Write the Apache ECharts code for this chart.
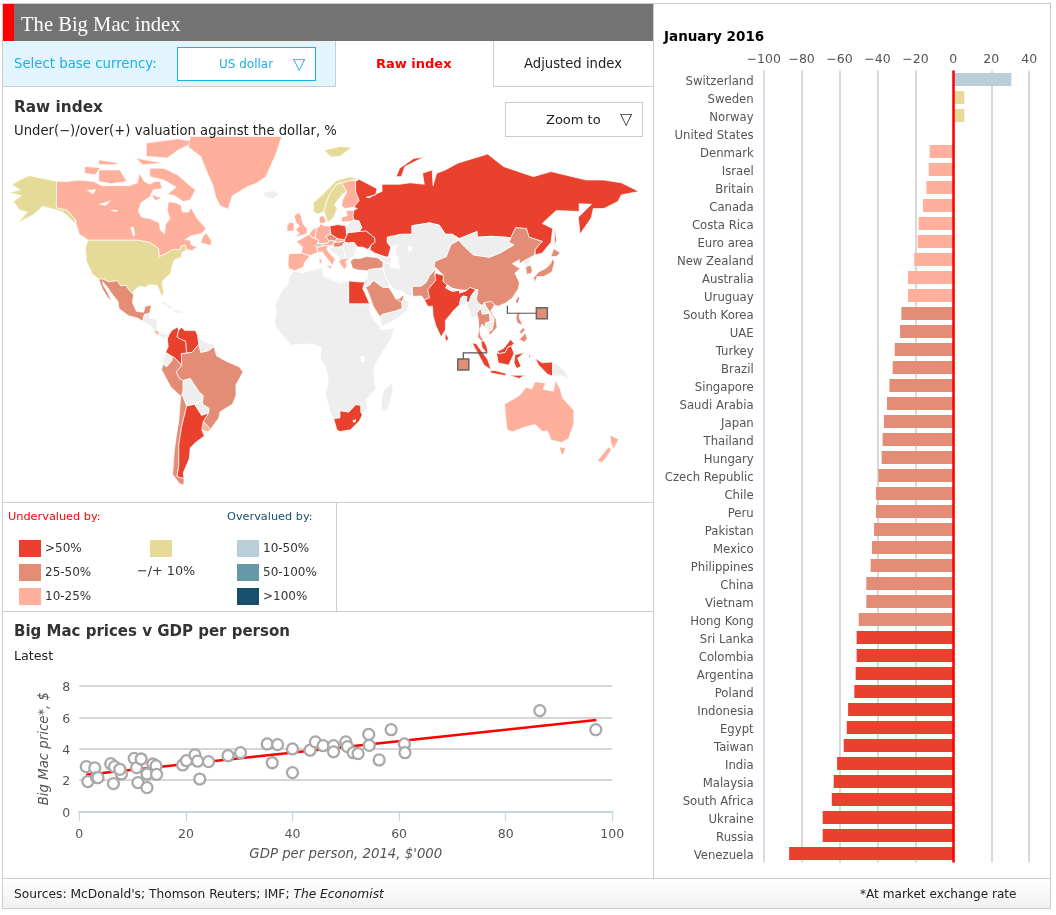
<!DOCTYPE html>
<html>
<head>
<meta charset="utf-8">
<title>The Big Mac index</title>
<script src="https://cdn.jsdelivr.net/npm/echarts@6/dist/echarts.min.js"></script>
<style>
html, body { margin: 0; padding: 0; background: #fff; }
body { width: 1056px; height: 915px; position: relative; overflow: hidden; font-family: "DejaVu Sans", sans-serif; font-size: 12px; color: #333; }
#chart { position: absolute; left: 0; top: 0; width: 1056px; height: 915px; }
.box, .txt { position: absolute; box-sizing: border-box; }
.txt { white-space: nowrap; line-height: 16px; }
.head { font-size: 15px; font-weight: bold; color: #333; }
.swatch { position: absolute; width: 22px; height: 17px; }
</style>
</head>
<body>
<div id="chart"></div>

<!-- 外框 -->
<div class="box" style="left:2px;top:3px;width:1049px;height:906px;border:1px solid #ccc;"></div>
<div class="box" style="left:653px;top:3px;width:0;height:875px;border-left:1px solid #ccc;"></div>
<div class="box" style="left:3px;top:4px;width:650px;height:37px;background:#737373;"></div>
<div class="box" style="left:3px;top:4px;width:11px;height:37px;background:#f00;"></div>
<div class="txt" style="left:21px;top:14px;font:20.6px/20px 'Liberation Serif',serif;color:#fff;">The Big Mac index</div>

<!-- 货币选择和标签 -->
<div class="box" style="left:3px;top:41px;width:332px;height:46px;background:#e2f5fd;border-bottom:1px solid #ccc;"></div>
<div class="txt" style="left:14px;top:56px;font-size:13.3px;color:#1ab0e8;">Select base currency:</div>
<div class="box" style="left:177px;top:47px;width:139px;height:34px;background:#fff;border:1px solid #1ab0e8;"></div>
<div class="txt" style="left:219px;top:56px;color:#1ab0e8;">US dollar</div>
<div class="txt" style="left:293px;top:54px;font-size:16px;line-height:20px;color:#1ab0e8;">▽</div>
<div class="box" style="left:335px;top:41px;width:0;height:46px;border-left:1px solid #ccc;"></div>
<div class="txt" style="left:376px;top:56px;font-size:13px;font-weight:bold;color:#f00;">Raw index</div>
<div class="box" style="left:493px;top:41px;width:160px;height:46px;border-left:1px solid #ccc;border-bottom:1px solid #ccc;"></div>
<div class="txt" style="left:524px;top:56px;font-size:13.2px;color:#222;">Adjusted index</div>

<div class="txt head" style="left:14px;top:99px;font-size:15.3px;">Raw index</div>
<div class="txt" style="left:14px;top:123px;font-size:13.2px;color:#222;">Under(−)/over(+) valuation against the dollar, %</div>
<div class="box" style="left:505px;top:102px;width:138px;height:35px;border:1px solid #ccc;background:#fff;"></div>
<div class="txt" style="left:546px;top:112px;font-size:13px;color:#222;">Zoom to</div>
<div class="txt" style="left:620px;top:109px;font-size:16px;line-height:20px;color:#333;">▽</div>

<!-- 图例 -->
<div class="box" style="left:3px;top:502px;width:650px;height:110px;border-top:1px solid #ccc;border-bottom:1px solid #ccc;"></div>
<div class="box" style="left:336px;top:502px;width:0;height:110px;border-left:1px solid #ccc;"></div>
<div class="txt" style="left:8px;top:509px;font-size:11.3px;color:#f00;">Undervalued by:</div>
<div class="txt" style="left:227px;top:509px;font-size:11.3px;color:#17506c;">Overvalued by:</div>
<div class="swatch" style="left:19px;top:540px;background:#e9412e;"></div>
<div class="txt" style="left:45px;top:540px;">&gt;50%</div>
<div class="swatch" style="left:19px;top:564px;background:#e38c76;"></div>
<div class="txt" style="left:45px;top:564px;">25-50%</div>
<div class="swatch" style="left:19px;top:588px;background:#ffb09c;"></div>
<div class="txt" style="left:45px;top:588px;">10-25%</div>
<div class="swatch" style="left:150px;top:540px;background:#e6da98;"></div>
<div class="txt" style="left:137px;top:563px;font-size:12.8px;">−/+ 10%</div>
<div class="swatch" style="left:237px;top:540px;background:#b9ced8;"></div>
<div class="txt" style="left:263px;top:540px;">10-50%</div>
<div class="swatch" style="left:237px;top:564px;background:#6599a8;"></div>
<div class="txt" style="left:263px;top:564px;">50-100%</div>
<div class="swatch" style="left:237px;top:588px;background:#17506c;"></div>
<div class="txt" style="left:263px;top:588px;">&gt;100%</div>

<div class="txt head" style="left:14px;top:623px;">Big Mac prices v GDP per person</div>
<div class="txt" style="left:14px;top:648px;font-size:12.7px;color:#222;">Latest</div>

<div class="txt" style="left:664px;top:28px;font-size:13.5px;font-weight:bold;color:#000;">January 2016</div>

<!-- 页脚 -->
<div class="box" style="left:3px;top:878px;width:1047px;height:30px;border-top:1px solid #ccc;background:linear-gradient(#fff,#f1f1f1);"></div>
<div class="txt" style="left:14px;top:886px;font-size:12.25px;color:#222;">Sources: McDonald's; Thomson Reuters; IMF; <i>The Economist</i></div>
<div class="txt" style="left:860px;top:886px;font-size:12.1px;color:#222;">*At market exchange rate</div>

<script>
// 条形图数据，2016年1月
var barCategories = ["Switzerland","Sweden","Norway","United States","Denmark","Israel","Britain","Canada","Costa Rica","Euro area",
    "New Zealand","Australia","Uruguay","South Korea","UAE","Turkey","Brazil","Singapore","Saudi Arabia","Japan",
    "Thailand","Hungary","Czech Republic","Chile","Peru","Pakistan","Mexico","Philippines","China","Vietnam",
    "Hong Kong","Sri Lanka","Colombia","Argentina","Poland","Indonesia","Egypt","Taiwan","India","Malaysia",
    "South Africa","Ukraine","Russia","Venezuela"];
var barValues = [30.6,5.8,5.8,0,-12.5,-13,-14.2,-16,-18.3,-18.8,
    -20.6,-23.9,-23.9,-27.4,-28.1,-30.9,-32,-33.7,-35,-36.6,
    -37.3,-37.8,-39.5,-40.8,-40.8,-41.8,-42.9,-43.6,-45.9,-45.9,
    -49.9,-51,-51,-51.5,-52.2,-55.5,-56.2,-57.8,-61.3,-63.1,
    -64.1,-68.9,-68.9,-86.6];

// 散点图数据：人均GDP（千美元）和巨无霸价格（美元）
var gdpValues = [1.3,2.9,1.6,3.25,3.5,5.9,6.6,6.4,7.9,7.6,10.3,10.75,11.6,11,12.7,12.7,13.8,14.4,14.5,19.4,20.1,21.7,22.2,22.6,24.25,27.9,30.25,35.25,37.2,36.2,40,40,43.3,44.3,45.75,47.7,47.7,50,50.3,51.4,52.3,54.3,54.4,56.25,58.5,61,61.1,86.4,96.9];
var priceValues = [2.85,2.77,1.9,2.15,2.15,3.04,2.85,1.77,2.38,2.68,3.38,2.79,3.34,1.83,1.51,2.38,3.02,2.9,2.36,2.96,3.23,3.6,3.2,2.06,3.17,3.55,3.74,4.3,4.26,3.1,3.98,2.47,3.9,4.43,4.19,4.19,3.8,4.43,4.13,3.74,3.68,4.91,4.21,3.28,5.21,4.3,3.74,6.43,5.21];
var trendGdp = [1.3,97];
var trendPrice = [2.34,5.83];

// 估值区间的颜色
var bandLimits = [-50,-25,-10,10,50,100];
var bandColors = ["#e9412e","#e38c76","#ffb09c","#e6da98","#b9ced8","#6599a8","#17506c"];

// 简化的世界地图轮廓（经度,纬度），名字对应条形图的类别，Other 为灰色，Blank 为留白
var mapShapes = [
    ["United States","-141,69.6 -148,70.4 -156.5,71.3 -162,70 -166.5,68.3 -161.5,66.5 -168,65.6 -161,64.5 -165.5,62.5 -162,59.5 -157.5,58.8 -163,55 -155,57.5 -151,59.5 -149,60.8 -144,60 -138,59 -134,57 -131,55 -130,56 -135,59.5 -141,60.3"],
    ["United States","-123,49 -95,49 -88,48 -83,45.5 -82.5,42 -79,43.3 -75,45 -71,45 -70,46.5 -67.8,47 -67,45 -70,43.5 -70,41.7 -74,40.6 -75.5,37.5 -76,35 -81,31.5 -80,26.5 -81,25 -82.7,28 -84,30 -89,30 -90,29 -94,29.5 -97.5,27 -97.2,25.9 -99.5,27.5 -101.5,29.8 -104.5,29.6 -106.5,31.8 -111,31.3 -114.8,32.5 -117,32.5 -120.5,34.5 -124,40 -124.5,46"],
    ["Canada","-123,49 -128,51 -130,55 -130,56 -135,59.5 -141,60.3 -141,69.6 -135,69.5 -128,70 -120,69.5 -115,68 -108,68 -100,68 -95,69 -94,72 -91,69.5 -88,68.5 -85,69.5 -82,69.5 -81,67 -86,66.5 -88,64 -93,62 -94.5,59 -92.5,57 -88,56.5 -82.5,55 -82,52.5 -79.5,51.2 -79,54.5 -76.5,56.5 -78,59 -77.5,62.4 -73,62 -70,61 -69.5,58.8 -66,58.8 -64.5,60.3 -61,56.5 -56,53 -58.5,51.3 -65,50.3 -68,49 -65,49 -64.5,47 -61,46 -64,44.5 -67,45 -67.8,47 -70,46.5 -71,45 -75,45 -79,43.3 -82.5,42 -83,45.5 -88,48 -95,49"],
    ["Canada","-80,73.5 -72,71.5 -67,69 -62,66.5 -65,63 -69,62.5 -74,64.5 -78,65 -73,67.5 -80,70 -88,71 -88,73.5"],
    ["Canada","-117,73 -105,73 -101,69.5 -110,68.7 -117,69.5"],
    ["Canada","-125,74 -116,73.7 -119,71.5 -125,72"],
    ["Canada","-90,77 -78,76.5 -72,79 -62,82 -72,83 -90,81.5"],
    ["Canada","-96,76.5 -80,75 -92,74.5"],
    ["Canada","-117,76 -105,75 -108,74.5 -117,74.5"],
    ["Canada","-59,47.7 -53,46.7 -53,49 -56,51.5 -58,50"],
    ["Canada","-87,65 -81,63.6 -85,62.8"],
    ["Canada","-128,50.7 -123.5,48.4 -125,49"],
    ["Denmark","-65,83.8 -13,83.8 -16,78 -22,71 -27,69 -33,67.5 -41,64.5 -43.5,59.8 -48,61 -50.5,64 -52,68 -56,73 -59,77 -66,80"],
    ["Denmark","8.2,57 10.5,57.7 12.5,55.5 10,54.8 8.5,55"],
    ["Mexico","-117,32.5 -114.8,32.5 -111,31.3 -106.5,31.8 -104.5,29.6 -101.5,29.8 -99.5,27.5 -97.2,25.9 -97.8,22.5 -95.5,18.8 -91.5,18.5 -90.5,21 -87,21.5 -88,18 -89,17.8 -91,17.5 -92,14.7 -95,16 -100,17 -105.5,20 -106,23 -109,25.8 -112.5,29.5 -114.8,31.5 -114.5,30 -112,27 -109.7,23 -112,24.8 -115,28.5"],
    ["Costa Rica","-85.7,11 -83.7,10.9 -82.6,9.5 -83,8.3 -85,9.8"],
    ["Colombia","-77.3,8.6 -75.5,10.7 -72,12.3 -71.5,11 -72.5,8 -70,7 -67.5,6.2 -67,1.2 -70,1 -69.8,-4.2 -73.5,-1 -75.3,-0.2 -79,1.5 -77.5,4 -78,7.3"],
    ["Venezuela","-72,12.3 -71.5,11 -72.5,8 -70,7 -67.5,6.2 -67,1.2 -64,1.5 -60,5 -60.7,8.5 -62,10.7 -68,10.7 -70,12 -71.5,10.9"],
    ["Peru","-80.3,-3.4 -78.5,-4.8 -75.5,-2 -75.3,-0.2 -73.5,-1 -69.8,-4.2 -73,-7 -71,-10 -69,-11 -69,-15.5 -69.5,-17.5 -70.4,-18.3 -76,-14 -81.3,-6"],
    ["Brazil","-69.8,-4.2 -70,1 -67,1.2 -64,1.5 -60,5 -59,1.5 -54.5,2.3 -51.5,4 -50,0 -44,-2.5 -37,-4.8 -35,-7 -39,-13 -39,-18 -41,-22 -48,-25.5 -48.8,-28.5 -53.4,-33.7 -57.6,-30.2 -54.6,-26 -54.3,-24 -58,-22 -57.7,-18 -60,-16.3 -65,-10 -69,-11 -71,-10 -73,-7"],
    ["Uruguay","-57.6,-30.2 -53.4,-33.7 -54.9,-35 -58.4,-34"],
    ["Chile","-70.4,-18.3 -69.5,-17.5 -67,-22.8 -70,-33 -71.5,-40 -71.5,-48 -72.5,-51.8 -68.5,-52.5 -68.6,-55 -71,-54.5 -75,-51 -74,-42 -73,-37 -71.5,-30"],
    ["Argentina","-67,-22.8 -62.5,-22 -58.5,-27.2 -54.6,-26 -57.6,-30.2 -58.4,-34 -57,-36.5 -62,-39 -65,-41 -65.5,-45 -69,-50.5 -68.5,-52.5 -72.5,-51.8 -71.5,-48 -71.5,-40 -70,-33"],
    ["Britain","-5.5,50 1.3,51.2 1.5,52.8 -1,54.8 -2,57.5 -3.5,58.6 -6,57.5 -4.8,55 -3,54 -5,52.5 -3,51.4"],
    ["Euro area","-10,52 -6,52.2 -6,55 -8.5,55.2 -10,54"],
    ["Euro area","-9,43.2 -1.8,43.4 3.2,42.4 0,39.5 -0.7,37.6 -5.5,36 -9,37 -9.5,39"],
    ["Euro area","-1.8,43.4 3.2,42.4 7.5,43.8 6.9,46 8,48.9 4.2,50 2.5,51 -1.5,49.5 -4.7,48.4 -1.2,46"],
    ["Euro area","2.5,51 4.2,50 6,49.5 6.2,51 7,53.4 4.7,52.8"],
    ["Euro area","6,49.5 8,48.9 7.6,47.6 9.6,47.5 13,47.6 13.8,48.7 12.2,50.3 15,51 14.3,53.9 11,54 9,54.8 8.6,53.8 7,53.4 6.2,51"],
    ["Euro area","9.6,47.5 10.4,46.7 13.8,46.5 16.3,46.9 17,48.3 15,49 13.8,48.7 13,47.6"],
    ["Euro area","7,45.9 7.5,43.8 10,44 12.5,41.5 16,38.2 16.5,39.5 17,40.5 18.5,40 13.5,44 12.5,45.5 13.8,46.5 10.4,46.6"],
    ["Euro area","12.5,38 15.5,38.2 15,36.7"],
    ["Euro area","8.2,41 9.7,41 9.5,39 8.5,39"],
    ["Euro area","17,48.6 18.8,49.5 22.8,49.1 22,48.4 18.5,47.9"],
    ["Euro area","19.5,40 20.5,41 22.9,41.3 26,41.4 23.5,40 24,37.8 22.5,36.5 21.2,37.8"],
    ["Euro area","21,55.3 26.5,55.5 28,56 27.5,57.5 28,59.4 23.5,59.2 24.3,57.5 21,57"],
    ["Euro area","21,61 23,60 28,60.5 31,62.8 29,66 29,69.5 27,70 21,69 24,65.8 21.5,63"],
    ["Switzerland","6,46.3 7,45.9 10.4,46.6 9.6,47.5 7.6,47.6"],
    ["Czech Republic","12.2,50.3 13.8,48.7 15,49 17,48.6 18.8,49.5 15,51"],
    ["Poland","14.3,53.9 15,51 18.8,49.5 22.8,49.1 24,50.7 23.5,53.9 19,54.4"],
    ["Hungary","16.3,46.9 17,48.1 18.5,47.9 22,48.4 22.8,48 21,46.2 18.8,45.9 16.5,46"],
    ["Ukraine","24,50.7 22.8,49.1 22.8,48 24.9,47.7 28,48 30,46 33,46 36,45 38,47 40,48 40,49.6 35,52.2 31,52 24,51.5"],
    ["Turkey","26,40 28,41.2 31.5,41.2 35,42 41.5,41.5 44.7,39.7 44.5,37.2 36.5,36.5 36,36 30.5,36.3 27.3,37"],
    ["Sweden","11,59 13,55.5 14.3,55.5 16.5,57 18.5,60 17,61.5 21.5,65 24,65.8 21,69 18,68.5 14.2,65 12.2,62"],
    ["Norway","5,59 7.5,58 11,59 12.2,62 14.2,65 18,68.5 21,69 27,70 31,70.2 26,71 18,69.8 12,66 5,62"],
    ["Norway","11,79 20,80.3 27,80 20,77 15,76.8"],
    ["Russia","52,71 55,71 57,74 67,76.6 69,76.9 62,76.4 54,73.5"],
    ["Russia","28,59.4 30,60 28,60.5 31,62.8 29,66 29,69.5 31,70.2 41,67 40.5,64.8 35,64 37,63.8 40,65 44,66 44,68.5 54,68.5 60,69 68,68.5 67,72 72.5,73 73,68 75,72 80,73 87,75 104,77.7 113,74 130,71 140,72.5 160,70 170,70 180,69 190,66 180,64.8 178,62.5 170,60 164,60 163,57 162,56 156.5,51 155.5,57 163,61.5 156,61.7 156,59 143,59.3 135,54.8 141,53 140,48 135,43.5 131,42.7 130.5,42.5 131,45 135,48.4 127.5,50 126,53 120,53.3 117,49.7 114,50 106,50.3 98,50 98,52 88,49.5 84,51 80,51 76.5,54.2 71,55 61,54 61,51 55,51 47,50 47,48 49,46 47.5,42 48.5,41.8 46,41.8 40,43.4 37,45 38,47 40,48 40,49.6 35,52.2 31,52 32.5,53.3 30.8,55.7 28,56 27.5,57.5"],
    ["Russia","142,54.3 143,49 142,46 142,50"],
    ["Egypt","25,31.7 25,22 37,22 34,27 33,28.5 34.2,31.3 32,31.2"],
    ["South Africa","16.5,-28.6 20,-28.4 20,-25 25,-25.7 29,-22.2 32,-22.5 32,-25.8 32.8,-27 31,-30 26,-34 20,-34.8 18.3,-34"],
    ["Israel","34.2,31.3 35,29.5 35.5,31.5 35.5,33 35,33"],
    ["Saudi Arabia","34.7,29 36.7,26 39,21 42.8,16.5 44,17.5 52,19 55.5,20 55.3,22.7 51.5,24.5 50,26.5 47.7,29 44.5,29 39,32 37,30"],
    ["UAE","51.5,24.2 55.3,22.7 56.2,24.5 56.3,26 54,24.2"],
    ["Pakistan","61.5,25.2 66.5,25.3 68,23.7 71,24.5 70,28 74.5,32 74,35 75,37 71,34 69,31 66,29.5 61,29.5"],
    ["India","68,23.7 70,21 72.7,21 73,17 74.5,13 77.5,8 80,11 80,15 85,19.5 88,21.7 88.8,24.5 90,25.3 92.3,25 91.7,23 93.3,22.5 94.7,25.5 97.3,28 94,29 92,27.7 89,26.8 88,26.5 88,27.8 84,27.3 80.2,28.7 81,30 78.7,31.5 79,34 74,35 74.5,32 70,28 71,24.5"],
    ["Sri Lanka","80,9.7 81.8,7.5 80.5,6 79.8,7.5"],
    ["China","74,40 80.5,42 83,47 87.5,49 91,46 96,42.7 105,41.7 111,43.5 119,47 116,47.8 117,49.7 120,53.3 126,53 127.5,50 135,48.4 131,45 130.5,42.5 128,41.5 124.3,40 122,39 122,40.7 118,39 121,37.5 122.5,37 119.5,35 122,31 121.5,28.5 118,24.5 114,22.3 110,21 108,21.5 106,23 102,22.5 101.5,21.2 99,22 97.5,24 98.5,28 97.3,28 94,29 92,27.7 89,27.8 84,28.5 81,30 78.7,31.5 79,34 75,37 73.5,37.5"],
    ["South Korea","125.5,37.7 128.4,38.4 129.4,36 128.5,34.8 126.3,34.5"],
    ["Japan","130,33 131,31 132,33.5 136,33.6 140.5,35.5 142,39.5 141,41.3 139.8,39 137,37 133,35.5"],
    ["Japan","140,42 141.5,45.4 145.3,43.5 143,42"],
    ["Taiwan","120,23 121.5,25.2 122,24.5 120.8,22"],
    ["Philippines","120,16 121,18.5 122.2,18.2 122,16 124,13 121,13.8"],
    ["Philippines","122,7 125.5,9.7 126.5,7.5 125,5.8"],
    ["Philippines","122,10 124,12 125.5,11 123,9.3"],
    ["Thailand","97.8,18 100,20.3 101,17.7 105,18 105.5,14.5 102.8,14 102.5,12 100.8,13.5 99.5,11 100,8.5 102,6.2 100.3,6.4 98.3,8 99,11 98.7,15"],
    ["Vietnam","102,22.5 106,23 108,21.5 105.7,19 108.8,15.5 109.3,12 105,8.6 104.7,10.4 106.5,11 107.5,14.5 107.5,16 104.7,19 103,21"],
    ["Malaysia","100.3,6.4 102,6.2 103.5,4 104.2,1.4 103,1.5 100.7,3.8"],
    ["Malaysia","109.6,2 113,3.2 115,5 117,7 119,5.3 117.5,4.2 115.5,3.8 114,1.5 110.5,1"],
    ["Indonesia","109,1.5 110.5,1 114,1.5 115.5,3.8 117.5,4.2 119,1 116,-4 110,-3"],
    ["Indonesia","95.2,5.5 97.5,5.2 104,-1.5 106,-6 102,-4 98.5,1"],
    ["Indonesia","105.3,-6.5 108,-6.3 114.5,-7.7 114.3,-8.7 106,-7.5"],
    ["Indonesia","119.5,0.5 125,1.5 121,-1 123,-4.5 120.5,-5.5 119,-3"],
    ["Indonesia","116,-8.5 125,-8.5 122,-10"],
    ["Indonesia","127.5,1.5 128.5,-1 127.5,-0.5"],
    ["Indonesia","131,-1 135,-3 141,-2.6 141,-9 138,-8 133,-4"],
    ["Australia","113.5,-22 114,-26 115,-34 118,-35 124,-33 131,-31.5 135,-34.8 138,-34.5 140,-38 146,-39 150,-37.5 153,-31 153,-25 146.5,-19 145.3,-15 142.5,-10.7 141.5,-16 135.5,-15 137,-12.2 131,-11.5 129,-15 126,-14 122,-18"],
    ["Australia","144.7,-40.7 148.3,-40.9 147,-43.5 146,-43.5"],
    ["New Zealand","173.5,-36 175.5,-36.8 178.5,-37.7 175.5,-41.5 174,-39"],
    ["New Zealand","172.7,-40.6 174.3,-41.7 171,-45 168.5,-46.6 166.5,-45.8"],
    ["Other","-92,14.7 -91,17.5 -89,17.8 -88,18 -88.5,15.9 -84,15.8 -83.7,10.9 -85.7,11 -87.5,13 -90,13.8"],
    ["Other","-83,8.3 -82.6,9.5 -79.5,9.5 -77.3,8.6 -78,7.3 -80.5,7.5"],
    ["Other","-85,22 -80,23 -74.2,20.2 -77.5,19.9 -78,21 -82,22.5"],
    ["Other","-74,19.8 -68.5,18.6 -71,17.9 -74.4,18.4"],
    ["Other","-60,5 -60.7,8.5 -57,6 -52,5 -51.5,4 -54.5,2.3 -59,1.5"],
    ["Other","-79,1.5 -75.3,-0.2 -75.5,-2 -78.5,-4.8 -80.3,-3.4 -81,-1.5"],
    ["Other","-69,-11 -65,-10 -60,-16.3 -57.7,-18 -58,-20 -62.5,-22 -67,-22.8 -69.5,-17.5 -69,-15.5"],
    ["Other","-58,-20 -58,-22 -54.3,-24 -54.6,-26 -58.5,-27.2 -62.5,-22"],
    ["Other","-24,65.5 -18,66.3 -14,65 -18,63.5 -22,64"],
    ["Other","13.6,45.5 16.5,46 18.8,45.9 21,46.2 22.5,44.5 22.9,41.3 20.5,41 19.5,40 19.3,42 15.5,44"],
    ["Other","21,46.2 22.8,48 24.9,47.7 28,48 30,46 29.5,45 28,41.9 26,41.4 22.9,41.3 22.5,44.5"],
    ["Other","24,51.5 31,52 32.5,53.3 30.8,55.7 28,56 26.5,55.5 23.5,53.9 24,50.7"],
    ["Other","40,43.4 46,41.8 48.5,41.8 49.5,40.3 48.5,39 44.7,39.7 41.5,41.5"],
    ["Other","53,47 51,44.8 53,42 53.8,37 49,37.5 48.5,39 44.7,39.7 44.5,37.2 46,33 48.5,30 51,28 56.5,27 57,25.7 61.5,25.2 61,29.5 66,29.5 69,31 71,34 75,37 73.5,37.5 74,40 80.5,42 83,47 87.5,49 84,51 80,51 76.5,54.2 71,55 61,54 61,51 55,51 47,50 47,48 49,46"],
    ["Other","80.2,28.7 84,27.3 88,27.8 88,26.5 89,26.8 92,27.7 89,27.8 84,28.5 81,30"],
    ["Other","88,21.7 88.8,24.5 90,25.3 92.3,25 91.7,23 92.3,20.8 90,22"],
    ["Other","87.5,49 91,46 96,42.7 105,41.7 111,43.5 119,47 116,47.8 117,49.7 114,50 106,50.3 98,50 98,52 88,49.5"],
    ["Other","124.3,40 128,41.5 130.5,42.5 127.5,39.5 128.4,38.4 125.5,37.7"],
    ["Other","92.3,20.8 91.7,23 93.3,22.5 94.7,25.5 97.3,28 98.5,28 97.5,24 99,22 101,21.2 100,20.3 97.8,18 98.7,15 99,11 98.2,14 97.3,16.7 94.5,16 94.3,18.7"],
    ["Other","101,21.2 101.5,21.2 102,22.5 103,21 104.7,19 107.5,16 107.5,14.5 105.5,14.5 105,18 101,17.7 100,20.3"],
    ["Other","102.8,14 105.5,14.5 107.5,14.5 106.5,11 104.7,10.4 102.5,12"],
    ["Other","141,-2.6 145,-4.5 147.7,-6.5 150.5,-10.5 146,-8.5 143,-9 141,-9"],
    ["Other","-6,35.8 -1,35.2 10,37.3 11,33.5 15,32.3 20,31 25,31.7 25,22 37,22 37.5,18 39.5,15 43,12.4 43.5,11 51,11.8 49,7 42,-1 39.5,-5 39.5,-10 40.5,-15 35,-20 35.5,-24 32.8,-26 32,-25.8 32,-22.5 29,-22.2 25,-25.7 20,-25 20,-28.4 16.5,-28.6 15,-27 11.8,-17.5 13.5,-11 12,-5 9,-1 9.5,3.5 5,5 -4,5 -8,4.5 -13,9 -16.5,12.5 -17,14.7 -16,19 -17,21 -13,27.7 -9.5,30 -9,33"],
    ["Other","36,36 36.5,36.5 44.5,37.2 46,33 48.5,30 47.7,29 44.5,29 39,32 37,30 35,29.5 35.5,31.5 35.5,33 35.8,34.5"],
    ["Other","42.8,16.5 43.5,12.8 45,12.8 52,15.6 55,17 57.8,19 59.7,22.5 56.5,24.5 55.3,22.7 55.5,20 52,19 44,17.5"],
    ["Other","49.5,-12 50.3,-16 47,-25 44,-25 43.5,-21 44.5,-16"],
    ["Blank","27.2,-29.5 29.3,-29 29,-30.5 27.7,-30.6"],
    ["Blank","-124,66.5 -118.5,66.8 -120,65"],
    ["Blank","-117,61.5 -110,62.8 -113,61"],
    ["Blank","-111,59.5 -106,59.5 -107,58.8"],
    ["Blank","-99,53.5 -97,53.5 -96.3,50.5 -97.5,50.5"],
    ["Blank","58.5,46.5 61,46.5 61,44.5 58.5,44"],
    ["Blank","31.8,0 34,0 34,-2.5 32,-2.5"]
];

// 地图投影：经度线性，纬度按分段刻度
var mapOriginX = 304.6, mapScaleX = 1.76;
var latKnots = [-60,-55,-35,-7,0,8,49,70,78,84];
var latPixels = [498,485,432,372,356,337,240,180,153,136];

function interp(v, from, to) {
    var i = 0;
    var rising = from[0] < from[1];
    while (i < from.length - 2 && (rising ? v > from[i + 1] : v < from[i + 1])) i++;
    return to[i] + (v - from[i]) * (to[i + 1] - to[i]) / (from[i + 1] - from[i]);
}
var mapProjection = {
    project: function (p) { return [mapOriginX + mapScaleX * p[0], interp(p[1], latKnots, latPixels)]; },
    unproject: function (p) { return [(p[0] - mapOriginX) / mapScaleX, interp(p[1], latPixels, latKnots)]; }
};

function bandColor(v) {
    for (var i = 0; i < bandLimits.length; i++) {
        if (v < bandLimits[i]) return bandColors[i];
    }
    return bandColors[bandColors.length - 1];
}

// 拼 GeoJSON，同时算出投影后的范围
var features = {}, featureOrder = [];
var minX = 1e9, maxX = -1e9, minY = 1e9, maxY = -1e9;
mapShapes.forEach(function (shape) {
    var ring = shape[1].split(" ").map(function (pair) {
        var c = pair.split(",");
        var pt = [parseFloat(c[0]), parseFloat(c[1])];
        var px = mapProjection.project(pt);
        minX = Math.min(minX, px[0]); maxX = Math.max(maxX, px[0]);
        minY = Math.min(minY, px[1]); maxY = Math.max(maxY, px[1]);
        return pt;
    });
    ring.push(ring[0]);
    if (!features[shape[0]]) { features[shape[0]] = []; featureOrder.push(shape[0]); }
    features[shape[0]].push([ring]);
});
echarts.registerMap("world", {
    type: "FeatureCollection",
    features: featureOrder.map(function (name) {
        return { type: "Feature", properties: { name: name }, geometry: { type: "MultiPolygon", coordinates: features[name] } };
    })
});

var mapRegions = barCategories.map(function (name, i) {
    return { name: name, itemStyle: { areaColor: bandColor(barValues[i]) } };
});
mapRegions.push({ name: "Blank", itemStyle: { areaColor: "#fff", borderWidth: 0 } });

var scatterFont = { color: "#555", fontFamily: "DejaVu Sans", fontSize: 12.5 };
var axisNameFont = { color: "#555", fontFamily: "DejaVu Sans", fontSize: 13.3, fontStyle: "italic" };
// 标签文字往下挪一点，用 rich 的 padding
function lowered(size, pad) {
    return { color: "#555", fontFamily: "DejaVu Sans", fontSize: size, padding: [pad, 0, 0, 0] };
}
var myChart = echarts.init(document.getElementById("chart"));
myChart.setOption({
    animation: false,
    textStyle: { fontFamily: "DejaVu Sans" },
    geo: {
        map: "world",
        projection: mapProjection,
        aspectScale: 1,
        left: minX,
        top: minY,
        width: maxX - minX,
        height: maxY - minY,
        silent: true,
        roam: false,
        label: { show: false },
        itemStyle: { areaColor: "#eeeeee", borderColor: "#fff", borderWidth: 0.7 },
        regions: mapRegions
    },
    grid: [
        { left: 763.7, top: 70.5, width: 265.5, height: 792, containLabel: false },
        { left: 79.3, top: 686, width: 533, height: 125.3, containLabel: false }
    ],
    xAxis: [
        {
            gridIndex: 0, type: "value", position: "top", min: -100, max: 40, interval: 20,
            axisLine: { show: false }, axisTick: { show: false },
            axisLabel: Object.assign({ margin: 4, formatter: function (v) { return String(v).replace("-", "−"); } }, scatterFont),
            splitLine: { lineStyle: { color: ["#c4d6e6", "#ccc", "#ccc", "#ccc", "#ccc", "#ccc", "#ccc", "#ccc"], width: 1.5 } }
        },
        {
            gridIndex: 1, type: "value", min: 0, max: 100, interval: 20,
            name: "GDP per person, 2014, $'000", nameLocation: "middle", nameGap: 37,
            nameTextStyle: axisNameFont,
            axisLine: { show: true, lineStyle: { color: "#c4d6e6", width: 2 } },
            axisTick: { show: true, length: 10, lineStyle: { color: "#c4d6e6", width: 1.2 } },
            axisLabel: Object.assign({ margin: 17 }, scatterFont),
            splitLine: { show: false }
        }
    ],
    yAxis: [
        {
            gridIndex: 0, type: "category", inverse: true, data: barCategories,
            axisLine: { show: false }, axisTick: { show: false },
            axisLabel: { margin: 10, interval: 0, formatter: "{a|{value}}", rich: { a: lowered(11.7, 4) } }
        },
        {
            gridIndex: 1, type: "value", min: 0, max: 8, interval: 2,
            name: "Big Mac price*, $", nameLocation: "middle", nameGap: 26.5, nameRotate: 90,
            nameTextStyle: axisNameFont,
            axisLine: { show: false }, axisTick: { show: false },
            axisLabel: { margin: 9, formatter: "{a|{value}}", rich: { a: lowered(12.5, 4) } },
            splitLine: { lineStyle: { color: "#c8c8c8", width: 1.5 } }
        }
    ],
    series: [
        {
            name: "January 2016", type: "bar", xAxisIndex: 0, yAxisIndex: 0, barWidth: 13, silent: true,
            data: barValues.map(function (v) { return { value: v, itemStyle: { color: bandColor(v) } }; }),
            markLine: {
                silent: true, symbol: "none", label: { show: false },
                lineStyle: { color: "#f00", width: 2.5, type: "solid" },
                data: [{ xAxis: 0 }]
            }
        },
        {
            name: "Trend", type: "line", xAxisIndex: 1, yAxisIndex: 1, showSymbol: false, silent: true, z: 3,
            lineStyle: { color: "#f00", width: 2.5 },
            data: trendGdp.map(function (x, i) { return [x, trendPrice[i]]; })
        },
        {
            name: "Countries", type: "scatter", xAxisIndex: 1, yAxisIndex: 1, symbolSize: 11, silent: true, z: 4,
            itemStyle: { color: "#fff", opacity: 1, borderColor: "#a9a9a9", borderWidth: 2.3 },
            data: gdpValues.map(function (x, i) { return [x, priceValues[i]]; })
        }
    ]
});

// 香港和新加坡在地图上太小，用方块引出
function callout(name, lonLat, dx, dy, horizontalFirst) {
    var p = myChart.convertToPixel("geo", lonLat);
    var end = [p[0] + dx, p[1] + dy];
    var knee = horizontalFirst ? [end[0], p[1]] : [p[0], end[1]];
    var color = bandColor(barValues[barCategories.indexOf(name)]);
    return [
        { type: "polyline", silent: true, z: 10, shape: { points: [p, knee, end] }, style: { fill: null, stroke: "#555", lineWidth: 1.2 } },
        { type: "rect", silent: true, z: 11, shape: { x: end[0] + (horizontalFirst ? -5.5 : 0), y: end[1] + (horizontalFirst ? 0 : -5.5), width: 11, height: 11 },
          style: { fill: color, stroke: "#666", lineWidth: 1.5 } }
    ];
}
myChart.setOption({
    graphic: callout("Hong Kong", [115.2, 21.2], 29, 7.5, false).concat(callout("Singapore", [103.8, 1.3], -24, 6, true))
});
</script>
</body>
</html>
